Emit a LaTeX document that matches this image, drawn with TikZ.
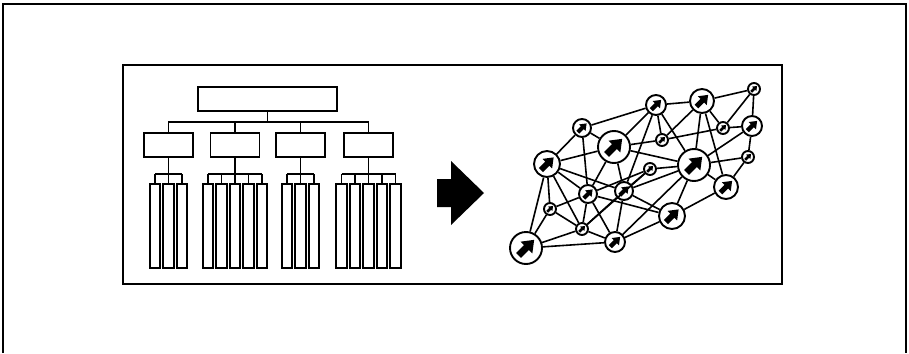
\documentclass[tikz,border=0pt]{standalone}
\begin{document}
\begin{tikzpicture}[x=1pt,y=-1pt,
  frame/.style={line width=1.8pt},
  tbox/.style={draw,line width=1.6pt,rectangle,inner sep=0pt,fill=white},
  conn/.style={line width=1.4pt},
  nnode/.style={draw,circle,line width=1.9pt,fill=white,inner sep=0pt},
  edge/.style={line width=1.6pt},
  bigarrow/.style={fill=black}
]
\useasboundingbox (0,0) rectangle (909,353);
% outer frame
\draw[frame] (3,353) -- (3,4) -- (906,4) -- (906,353);
% inner frame
\draw[frame] (123,65) rectangle (782,284);

% ---------------- hierarchy ----------------
\node[tbox,minimum width=139pt,minimum height=24pt] (top) at (267.5,99) {};
\foreach \n/\x in {m1/168.5,m2/235,m3/300.5,m4/368.5}
  \node[tbox,minimum width=49pt,minimum height=24pt] (\n) at (\x,145) {};
\coordinate (bus) at (0,122);
\coordinate (sbus) at (0,174);
\draw[conn] (top.south) -- (top.south |- bus);
\draw[conn] (m1.north) -- (m1.north |- bus) -- (m4.north |- bus) -- (m4.north);
\draw[conn] (m2.north) -- (m2.north |- bus);
\draw[conn] (m3.north) -- (m3.north |- bus);
% bars
\foreach \g/\c/\k in {m1/168.5/3,m2/235/5,m3/300.5/3,m4/368.5/5}{
  \foreach \j in {1,...,\k}{
    \pgfmathsetmacro{\bx}{\c+(\j-(\k+1)/2)*13.5}
    \node[tbox,minimum width=10.5pt,minimum height=84pt] (\g b\j) at (\bx,226) {};
    \draw[conn] (\g b\j.north) -- (\g b\j.north |- sbus);
  }
  \draw[conn] (\g.south) -- (\g.south |- sbus);
  \draw[conn] (\g b1.north |- sbus) -- (\g b\k.north |- sbus);
}

% ---------------- big arrow ----------------
\fill[bigarrow] (437,179) -- (451,179) -- (451,161) -- (484,193) -- (451,225) -- (451,207) -- (437,207) -- cycle;

% ---------------- network ----------------
\foreach \n/\x/\y/\r in {
  A/526/248/16, B/614/147/16, C/694/165/16, D/547/164/13,
  E/702/101/12, F/672/216/13, G/726/187/12, H/656/105/10,
  I/582/128/9, J/752/126/10, K/588/194/9, L/624/191/9, M/615/242/10,
  s1/754/89/6, s2/723/128/6, s3/748/157/6, s4/662/140/6,
  s5/650/169/6, s6/550/209/6, s7/582/229/6}
  \node[nnode,minimum size=2*\r pt] (\n) at (\x,\y) {};

\foreach \a/\b in {
  A/D, A/s6, A/s7, A/M,
  D/I, D/B, D/K, D/s6, D/s7, D/L,
  I/H, I/B, I/K,
  H/E, H/B, H/s4, H/L, H/C,
  E/s1, E/s4, E/C, E/s2, E/G,
  s1/J, s1/s2,
  J/s2, J/s3, J/C,
  s3/G, s3/C,
  G/F, G/C,
  F/M, F/C, F/L, F/K,
  B/s4, B/C, B/K, B/L,
  s4/s2,
  s5/C, s5/K, s5/L, s5/s7,
  L/C, L/M, L/s7,
  K/s6, K/s7, K/M,
  s6/s7, C/M, s7/M}
  \draw[edge] (\a) -- (\b);

\foreach \n/\r in {A/16, B/16, C/16, D/13, E/12, F/13, G/12, H/10,
  I/9, J/10, K/9, L/9, M/10, s1/6, s2/6, s3/6, s4/6, s5/6, s6/6, s7/6}
  \fill[shift={(\n.center)},rotate=45,scale=\r]
    (-0.66,-0.22) -- (0.04,-0.22) -- (0.04,-0.52) -- (0.72,0) --
    (0.04,0.52) -- (0.04,0.22) -- (-0.66,0.22) -- cycle;
\end{tikzpicture}
\end{document}
